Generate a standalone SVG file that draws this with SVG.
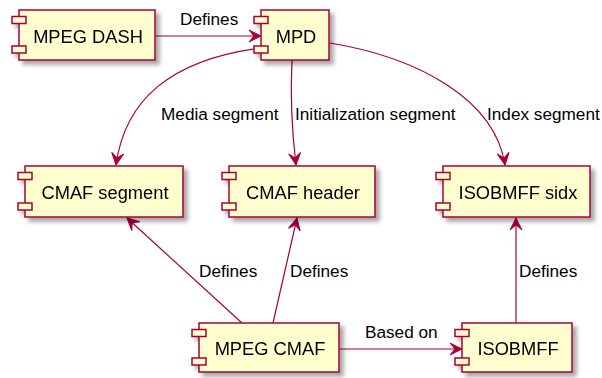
<svg xmlns="http://www.w3.org/2000/svg" width="602" height="378" viewBox="0 0 602 378">
  <style>
    .box { fill: #FEFECE; stroke: #A80036; stroke-width: 1.5; }
    .port { fill: #FEFECE; stroke: #A80036; stroke-width: 1.5; }
    .name { font-family: "Liberation Sans", Arial, sans-serif; font-size: 18.3px; fill: #000; text-anchor: middle; }
    .edge { fill: none; stroke: #A80036; stroke-width: 1.2; }
    .lbl { font-family: "Liberation Sans", Arial, sans-serif; font-size: 17.2px; fill: #000; }
  </style>
  <defs>
    <filter id="shadow" x="-20%" y="-20%" width="150%" height="160%">
      <feGaussianBlur in="SourceAlpha" stdDeviation="2"/>
      <feOffset dx="4" dy="4" result="b"/>
      <feFlood flood-color="#000" flood-opacity="0.35"/>
      <feComposite in2="b" operator="in" result="s"/>
      <feMerge><feMergeNode in="s"/><feMergeNode in="SourceGraphic"/></feMerge>
    </filter>
    <marker id="arrow" markerUnits="userSpaceOnUse" markerWidth="16" markerHeight="16" viewBox="-14 -8 16 16" refX="0" refY="0" orient="auto">
      <path d="M0,0 L-12,-6 L-7,0 L-12,6 Z" fill="#A80036" stroke="#A80036" stroke-width="1"/>
    </marker>
  </defs>

  <!-- connectors -->
  <g id="edges">
    <path class="edge" d="M155,36 L261,36" marker-end="url(#arrow)"/>
    <text class="lbl" x="180" y="25">Defines</text>

    <path class="edge" d="M260,48 C170,60 125,100 116,165" marker-end="url(#arrow)"/>
    <text class="lbl" x="161" y="120">Media segment</text>

    <path class="edge" d="M292,60 C290,100 293,140 296,165" marker-end="url(#arrow)"/>
    <text class="lbl" x="295" y="120">Initialization segment</text>

    <path class="edge" d="M330,43 C420,58 495,100 505,165" marker-end="url(#arrow)"/>
    <text class="lbl" x="487" y="120">Index segment</text>

    <path class="edge" d="M242,323 L127,218" marker-end="url(#arrow)"/>
    <text class="lbl" x="199" y="277">Defines</text>

    <path class="edge" d="M273,323 L297,218" marker-end="url(#arrow)"/>
    <text class="lbl" x="290" y="277">Defines</text>

    <path class="edge" d="M516,323 L516,218" marker-end="url(#arrow)"/>
    <text class="lbl" x="519" y="277">Defines</text>

    <path class="edge" d="M339,349 L462,349" marker-end="url(#arrow)"/>
    <text class="lbl" x="365" y="338">Based on</text>
  </g>

  <!-- components -->
  <g id="mpeg-dash" filter="url(#shadow)">
    <rect class="box" x="19" y="10" width="136" height="50"/>
    <rect class="port" x="12" y="16.5" width="14" height="7"/>
    <rect class="port" x="12" y="46" width="14" height="7"/>
    <text class="name" x="88" y="43">MPEG DASH</text>
  </g>

  <g id="mpd" filter="url(#shadow)">
    <rect class="box" x="261" y="10" width="68" height="50"/>
    <rect class="port" x="254" y="16.5" width="14" height="7"/>
    <rect class="port" x="254" y="46" width="14" height="7"/>
    <text class="name" x="296" y="43">MPD</text>
  </g>

  <g id="cmaf-segment" filter="url(#shadow)">
    <rect class="box" x="25" y="166" width="158" height="51"/>
    <rect class="port" x="18" y="172.5" width="14" height="7"/>
    <rect class="port" x="18" y="203" width="14" height="7"/>
    <text class="name" x="105" y="199">CMAF segment</text>
  </g>

  <g id="cmaf-header" filter="url(#shadow)">
    <rect class="box" x="229" y="166" width="146" height="51"/>
    <rect class="port" x="222" y="172.5" width="14" height="7"/>
    <rect class="port" x="222" y="203" width="14" height="7"/>
    <text class="name" x="303" y="199">CMAF header</text>
  </g>

  <g id="isobmff-sidx" filter="url(#shadow)">
    <rect class="box" x="443" y="166" width="147" height="51"/>
    <rect class="port" x="436" y="172.5" width="14" height="7"/>
    <rect class="port" x="436" y="203" width="14" height="7"/>
    <text class="name" x="518" y="199">ISOBMFF sidx</text>
  </g>

  <g id="mpeg-cmaf" filter="url(#shadow)">
    <rect class="box" x="199" y="323" width="140" height="49"/>
    <rect class="port" x="192" y="329.5" width="14" height="7"/>
    <rect class="port" x="192" y="358" width="14" height="7"/>
    <text class="name" x="270" y="355">MPEG CMAF</text>
  </g>

  <g id="isobmff" filter="url(#shadow)">
    <rect class="box" x="462" y="323" width="110" height="49"/>
    <rect class="port" x="455" y="329.5" width="14" height="7"/>
    <rect class="port" x="455" y="358" width="14" height="7"/>
    <text class="name" x="518" y="355">ISOBMFF</text>
  </g>
</svg>
